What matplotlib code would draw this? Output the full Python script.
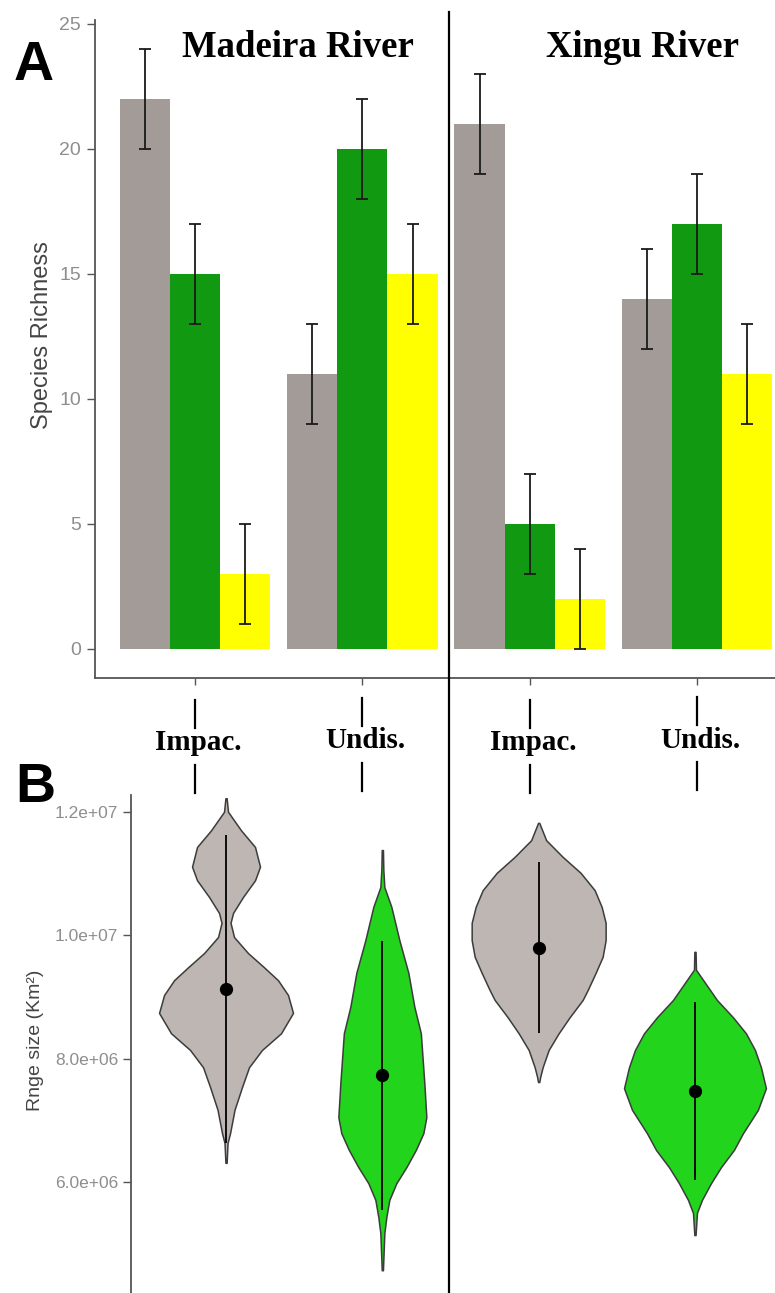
import matplotlib
matplotlib.use("Agg")
import matplotlib.pyplot as plt
from matplotlib.lines import Line2D
from matplotlib.transforms import blended_transform_factory

# ---- data ----
rivers = ["Madeira River", "Xingu River"]
sites = ["Impac.", "Undis.", "Impac.", "Undis."]
group_pos = [1, 2, 3, 4]

# species richness per site (gray / green / yellow bars)
rich_gray = [22, 11, 21, 14]
rich_green = [15, 20, 5, 17]
rich_yellow = [3, 15, 2, 11]
rich_err = [2, 2, 2, 2]
rich_ticks = [0, 5, 10, 15, 20, 25]

# range size violins (values in km^2 x 1e6, density = relative width)
mi_y = [12.22, 12.00, 11.70, 11.43, 11.11, 10.89, 10.62, 10.36, 10.20, 9.97, 9.71, 9.48,
        9.27, 9.03, 8.74, 8.41, 8.14, 7.86, 7.54, 7.17, 6.79, 6.63, 6.31]
mi_d = [0.6, 2, 15, 29, 34, 29, 17, 7, 4.5, 8, 22, 38, 52, 62, 67, 55, 36, 23, 16, 8.5, 4, 1.5, 0.6]
mu_y = [11.38, 11.06, 10.78, 10.46, 9.92, 9.39, 8.84, 8.41, 7.60, 7.05, 6.79, 6.52, 6.24,
        5.98, 5.71, 5.43, 5.17, 4.57]
mu_d = [0.6, 1, 2, 9, 17, 26, 32, 38.5, 42, 44, 41, 33.5, 24, 14, 7, 4, 2, 0.6]
xi_y = [11.82, 11.54, 11.27, 11.01, 10.73, 10.46, 10.20, 9.92, 9.65, 9.39, 9.11, 8.95, 8.67,
        8.41, 8.14, 7.86, 7.70, 7.62]
xi_d = [0.6, 7.5, 24, 42, 56, 63, 67, 67, 64, 57, 49, 44, 31, 20, 10, 4, 1.5, 0.6]
xu_y = [9.73, 9.44, 9.16, 8.95, 8.67, 8.41, 8.14, 7.86, 7.52, 7.17, 6.79, 6.52, 6.24, 5.98,
        5.71, 5.50, 5.14]
xu_d = [0.6, 1, 13, 22, 38, 51, 60, 66, 71, 63, 48, 39, 26, 16, 7, 2, 0.6]
range_mean = [9.13, 7.73, 9.80, 7.47]
range_sd = [2.50, 2.18, 1.38, 1.44]
range_ticks = [6.0, 8.0, 10.0, 12.0]
range_ticklabels = ["6.0e+06", "8.0e+06", "1.0e+07", "1.2e+07"]

W, H = 775, 1293
SERIF = "Liberation Serif"
SANS = "Liberation Sans"


def fx(x):
    return x / W


def fy(y):
    return 1 - y / H


fig = plt.figure(figsize=(W / 100, H / 100), dpi=100)
fig.patch.set_facecolor("white")

# ---- panel A: bars ----
ax_a = fig.add_axes([fx(95), fy(678), fx(775) - fx(95), (678 - 20) / H])
bw = 0.3
x0 = [p - bw for p in group_pos]
x2 = [p + bw for p in group_pos]
ax_a.bar(x0, rich_gray, width=bw, color="#a39b97")
ax_a.bar(group_pos, rich_green, width=bw, color="#119911")
ax_a.bar(x2, rich_yellow, width=bw, color="#ffff00")
for xs, vals in [(x0, rich_gray), (group_pos, rich_green), (x2, rich_yellow)]:
    ax_a.errorbar(xs, vals, yerr=rich_err, fmt="none", ecolor="#1a1a1a",
                  elinewidth=1.3, capsize=4.5, capthick=1.3)
ax_a.set_xlim(0.402, 4.466)
ax_a.set_ylim(-1.18, 25.16)
ax_a.set_yticks(rich_ticks)
ax_a.set_xticks(group_pos)
ax_a.set_xticklabels([])
for s in ["top", "right"]:
    ax_a.spines[s].set_visible(False)
for s in ["left", "bottom"]:
    ax_a.spines[s].set_color("#555555")
    ax_a.spines[s].set_linewidth(1.3)
ax_a.tick_params(axis="y", length=6, width=1, color="#555555", labelcolor="#8e8e8e",
                 labelsize=14, pad=4)
ax_a.tick_params(axis="x", length=5, width=1, color="#555555")
for lab in ax_a.get_yticklabels():
    lab.set_family(SANS)

# ---- panel B: violins ----
ax_b = fig.add_axes([fx(131), 0, fx(775) - fx(131), (H - 795) / H])
stats = []
for ys, ds, m, sd in zip([mi_y, mu_y, xi_y, xu_y], [mi_d, mu_d, xi_d, xu_d],
                         range_mean, range_sd):
    stats.append({"coords": ys, "vals": ds, "mean": m, "median": m,
                  "min": min(ys), "max": max(ys)})
parts = ax_b.violin(stats, positions=group_pos, widths=[0.857, 0.563, 0.857, 0.908],
                    showmeans=False, showextrema=False, showmedians=False)
vcols = ["#bdb6b3", "#22d41c", "#bdb6b3", "#22d41c"]
for body, c in zip(parts["bodies"], vcols):
    body.set_facecolor(c)
    body.set_edgecolor("#3c3c3c")
    body.set_linewidth(1.1)
    body.set_joinstyle("round")
    body.set_alpha(1)
ax_b.errorbar(group_pos, range_mean, yerr=range_sd, fmt="o", color="black",
              ms=8.5, elinewidth=1.3, capsize=0)
ax_b.set_xlim(0.392, 4.512)
ax_b.set_ylim(4.201, 12.272)
ax_b.set_yticks(range_ticks)
ax_b.set_yticklabels(range_ticklabels, family=SANS)
ax_b.set_xticks([])
for s in ["top", "right", "bottom"]:
    ax_b.spines[s].set_visible(False)
ax_b.spines["left"].set_color("#555555")
ax_b.spines["left"].set_linewidth(1.3)
ax_b.tick_params(axis="y", length=6, width=1, color="#555555", labelcolor="#8e8e8e",
                 labelsize=12.5, pad=3)

# ---- annotations ----
fig.text(fx(298), fy(57), rivers[0], family=SERIF, weight="bold", fontsize=26.5,
         ha="center", va="baseline")
fig.text(fx(643), fy(57), rivers[1], family=SERIF, weight="bold", fontsize=26.5,
         ha="center", va="baseline")
fig.text(fx(14), fy(80), "A", family=SANS, weight="bold", fontsize=40, va="baseline")
fig.text(fx(15), fy(802), "B", family=SANS, weight="bold", fontsize=40, va="baseline")
fig.text(fx(42), fy(335), "Species Richness", family=SANS, fontsize=17, color="#444444",
         rotation=90, ha="center", va="center")
fig.text(fx(36), fy(1040), "Rnge size (Km²)", family=SANS, fontsize=14, color="#444444",
         rotation=90, ha="center", va="center")

trans = blended_transform_factory(ax_a.transData, fig.transFigure)
lift = [0, 2, 0, 3]  # small vertical offsets of the hand-placed labels
for p, name, dy in zip(group_pos, sites, lift):
    fig.text(p + 0.02, fy(743 - dy), name, transform=trans, family=SERIF, weight="bold",
             fontsize=21, ha="center", va="center")
    for ya, yb in [(700, 728), (765, 793)]:
        fig.add_artist(Line2D([p, p], [fy(ya - dy), fy(yb - dy)], transform=trans,
                              color="black", lw=1.6))

# river divider
fig.add_artist(Line2D([fx(449), fx(449)], [fy(12), 0], color="black", lw=1.6))

fig.savefig("out.png", dpi=100, facecolor="white")
